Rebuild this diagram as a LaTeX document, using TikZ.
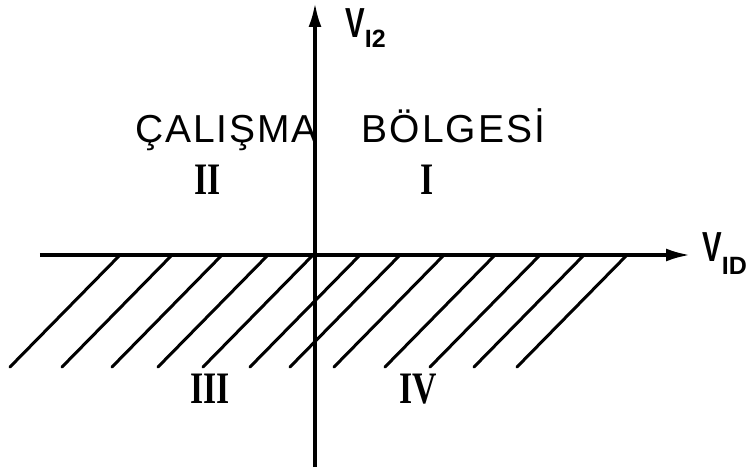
\documentclass[tikz,border=0pt]{standalone}
\usepackage{fontspec}
\setmainfont{Liberation Sans}
\newfontfamily\bolgefont[LetterSpace=5]{Liberation Sans}
\newfontfamily\romfont{Liberation Serif}
\usetikzlibrary{arrows.meta}

\begin{document}
\begin{tikzpicture}[x=1pt, y=1pt, >={Latex[length=24pt,width=13pt]},
    eksen/.style={line width=3.3pt},
    tarama/.style={line width=3pt, line cap=round},
    roma/.style={inner sep=0, xscale=0.75, font=\romfont\bfseries\fontsize{45}{45}\selectfont},
    gerilim/.style={inner sep=0, anchor=base west, font=\bfseries\fontsize{42}{42}\selectfont}]
    \useasboundingbox (-315,-215) rectangle (439,255);

    % taralı (yasak) bölge
    \foreach \x in {-195,-143,-93,-47,-2,45,85,129,180,225,269,312} {
        \draw[tarama] (\x,0) -- ++(-110,-112);
    }

    % eksenler
    \draw[eksen, ->] (-275,0) -- (375,0);
    \draw[eksen, ->] (0,-212) -- (0,252);

    % eksen etiketleri
    \node[gerilim] (vi2) at (30,217)
        {\scalebox{0.7}[1]{V}\raisebox{-10pt}{\fontsize{25}{25}\selectfont I2}};
    \node[gerilim] (vid) at (387,-7)
        {\scalebox{0.7}[1]{V}\raisebox{-13pt}{\fontsize{25}{25}\selectfont ID}};

    % çalışma bölgesi
    \node[inner sep=0, anchor=base, font=\bolgefont\fontsize{39}{39}\selectfont] (bolge) at (25,112)
        {ÇALIŞMA\hspace{44pt}BÖLGESİ};

    % bölge numaraları
    \node[roma] (r2) at (-107,75) {II};
    \node[roma] (r1) at (112,75) {I};
    \node[roma] (r3) at (-105,-134) {III};
    \node[roma] (r4) at (103,-134) {IV};
\end{tikzpicture}
\end{document}
